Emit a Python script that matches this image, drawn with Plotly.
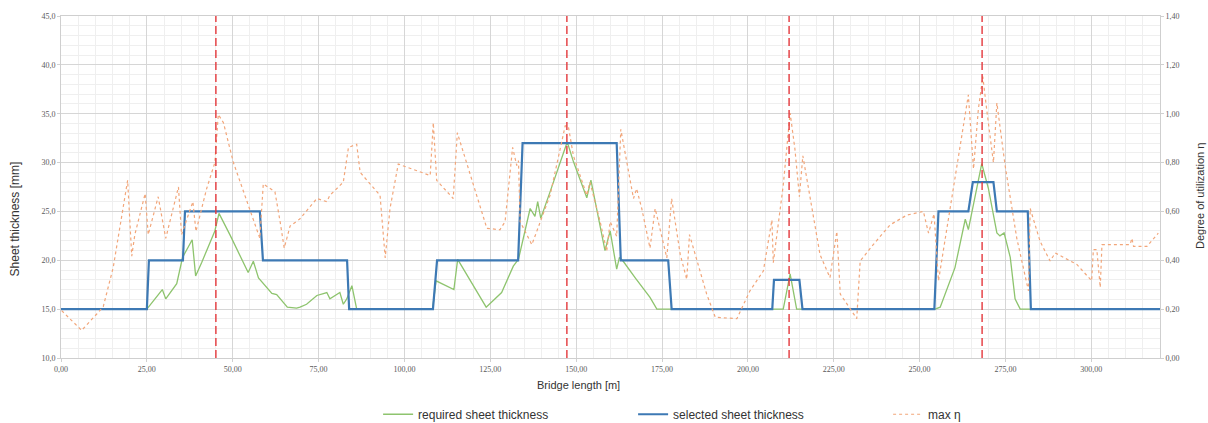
import plotly.graph_objects as go

# ---------------- data ----------------
# required sheet thickness [mm]
req_x = [0, 25.0, 29.5, 30.5, 33.7, 35.4, 38.2, 39.2, 41.0, 44.8, 46.0, 49.2, 54.5, 56.0, 57.5,
         61.4, 62.8, 65.9, 68.6, 69.6, 71.5, 74.5, 76.4, 77.4, 78.3, 81.2, 82.2, 83.2, 84.7, 86.1,
         108.2, 109.2, 114.4, 115.5, 123.8, 126.9, 128.3, 131.7, 133.2, 136.6, 138.0, 138.8, 139.7,
         142.4, 147.4, 149.2, 153.1, 154.3, 156.2, 158.4, 159.9, 161.8, 162.6, 163.7, 167.2, 169.6,
         171.5, 173.5, 210.3, 212.3, 214.2, 254.5, 256.0, 260.3, 263.3, 264.2, 268.1, 270.0, 272.5,
         273.4, 274.6, 276.4, 277.8, 279.3, 320]
req_t = [15, 15.0, 17.0, 16.05, 17.6, 20.3, 22.1, 18.4, 19.8, 23.0, 24.8, 22.6, 18.75, 19.9, 18.2,
         16.6, 16.5, 15.2, 15.1, 15.2, 15.5, 16.4, 16.6, 16.7, 16.05, 16.7, 15.5, 16.05, 17.4, 15.0,
         15.0, 17.9, 17.0, 20.1, 15.2, 16.2, 16.7, 19.4, 20.1, 25.3, 24.5, 26.0, 24.3,
         27.0, 32.1, 30.1, 26.4, 28.2, 25.0, 21.0, 23.0, 19.1, 20.3, 19.9, 18.2, 17.1,
         16.2, 15.0, 15.0, 18.6, 15.0, 15.0, 15.2, 19.25, 24.2, 23.15, 29.9, 27.4, 22.8,
         22.5, 22.8, 20.3, 16.05, 15.0, 15]

# selected sheet thickness [mm]
sel_x = [0, 25.0, 25.6, 35.5, 36.1, 57.9, 58.8, 83.3, 83.9, 108.3, 109.5, 133.1, 134.4,
         161.8, 163.0, 176.8, 177.8, 207.1, 207.6, 215.0, 215.9, 254.3, 255.5, 264.2, 265.5,
         271.5, 272.5, 281.5, 282.4, 320]
sel_t = [15, 15, 20, 20, 25, 25, 20, 20, 15, 15, 20, 20, 32,
         32, 20, 20, 15, 15, 18, 18, 15, 15, 25, 25, 28,
         28, 25, 25, 15, 15]

# max degree of utilization
eta_x = [0.2, 6.0, 10.4, 12.3, 15.2, 19.4, 20.6, 21.5, 24.5, 25.4, 28.3, 30.5, 34.2, 35.1, 38.4,
         39.3, 42.4, 44.8, 45.8, 47.3, 50.2, 54.1, 57.9, 58.9, 62.3, 63.8, 65.0, 66.7, 69.6, 74.5,
         77.4, 78.3, 82.2, 83.7, 86.1, 87.1, 92.9, 94.4, 95.8, 98.2, 107.5, 108.4, 109.4, 114.2,
         115.4, 124.0, 127.8, 129.3, 131.5, 132.7, 133.2, 133.7, 137.1, 142.4, 146.8, 147.7, 149.2,
         153.1, 154.0, 157.0, 158.9, 159.9, 161.8, 163.0, 166.7, 167.6, 169.1, 171.5, 173.0, 176.4,
         177.8, 180.3, 182.2, 183.0, 188.0, 190.5, 196.8, 200.6, 204.5, 207.0, 207.4, 210.3, 212.3,
         213.7, 215.0, 216.0, 221.0, 223.9, 225.9, 226.9, 231.7, 232.7, 236.5, 241.4, 246.3, 251.1,
         252.6, 254.2, 255.5, 264.2, 265.7, 267.1, 268.4, 269.6, 271.5, 272.5, 274.9, 278.3, 281.7,
         282.2, 285.1, 288.0, 289.5, 295.8, 300.1, 300.6, 301.6, 302.6, 303.1, 306.4, 311.3, 311.8,
         312.3, 316.2, 319.5]
eta_v = [0.194, 0.113, 0.18, 0.21, 0.37, 0.727, 0.417, 0.505, 0.673, 0.505, 0.66, 0.49, 0.70, 0.505, 0.64,
         0.518, 0.693, 0.80, 0.997, 0.963, 0.80, 0.64, 0.49, 0.713, 0.68, 0.558, 0.45, 0.54, 0.57, 0.653,
         0.64, 0.666, 0.72, 0.862, 0.875, 0.76, 0.666, 0.41, 0.612, 0.794, 0.747, 0.963, 0.727, 0.653,
         0.922, 0.531, 0.525, 0.558, 0.862, 0.788, 0.808, 0.558, 0.464, 0.666, 0.95, 0.95, 0.828,
         0.666, 0.72, 0.558, 0.437, 0.558, 0.498, 0.936, 0.653, 0.693, 0.612, 0.45, 0.612, 0.41,
         0.653, 0.424, 0.322, 0.505, 0.262, 0.167, 0.161, 0.275, 0.356, 0.565, 0.39, 0.707, 1.003,
         0.855, 0.66, 0.828, 0.424, 0.329, 0.518, 0.262, 0.161, 0.397, 0.464, 0.545, 0.585, 0.60,
         0.511, 0.59, 0.316, 1.077, 0.774, 1.017, 1.152, 1.01, 0.80, 1.044, 0.788, 0.49, 0.275,
         0.612, 0.477, 0.397, 0.43, 0.383, 0.316, 0.444, 0.444, 0.289, 0.464, 0.464, 0.464, 0.49,
         0.457, 0.457, 0.511]

# positions of the red dashed markers [m]
marker_x = [45.1, 147.3, 212.0, 268.2]

x_range = [0, 320]
y_range = [10, 45]
y2_range = [0, 1.4]

# ---------------- figure ----------------
fig = go.Figure()

fig.add_trace(go.Scatter(x=req_x, y=req_t, mode="lines", name="required sheet thickness",
                         line=dict(color="#8ec46e", width=1.3)))
fig.add_trace(go.Scatter(x=sel_x, y=sel_t, mode="lines", name="selected sheet thickness",
                         line=dict(color="#3d79b4", width=2.2)))
fig.add_trace(go.Scatter(x=eta_x, y=eta_v, mode="lines", name="max η", yaxis="y2",
                         line=dict(color="#f2a67a", width=1.2, dash="dot")))

for mx in marker_x:
    fig.add_shape(type="line", xref="x", yref="paper", x0=mx, x1=mx, y0=0, y1=1,
                  line=dict(color="#e4383c", width=1.4, dash="8px,4px"))

tickfont = dict(family="Liberation Serif", size=8, color="#5a5a5a")

fig.update_layout(
    width=1208, height=423,
    margin=dict(l=61, r=48, t=12, b=65),
    paper_bgcolor="white", plot_bgcolor="white",
    separators=", ",
    showlegend=True,
    legend=dict(orientation="h", xref="container", yref="container",
                x=0.313, y=0.055, xanchor="left", yanchor="top",
                font=dict(family="Liberation Sans", size=12, color="#333333"),
                entrywidth=210, entrywidthmode="pixels", bgcolor="rgba(0,0,0,0)"),
    xaxis=dict(range=x_range, dtick=25, tick0=0, tickformat=".2f", tickfont=tickfont,
               showgrid=True, gridcolor="#d6d6d6", gridwidth=1,
               minor=dict(dtick=5, showgrid=True, gridcolor="#efefef"),
               showline=True, linecolor="#cfcfcf", mirror=True, zeroline=False,
               ticks="outside", ticklen=3, tickcolor="#d0d0d0"),
    yaxis=dict(range=y_range, dtick=5, tick0=10, tickformat=".1f", tickfont=tickfont,
               showgrid=True, gridcolor="#d6d6d6", gridwidth=1,
               minor=dict(dtick=1, showgrid=True, gridcolor="#efefef"),
               showline=True, linecolor="#cfcfcf", mirror=True, zeroline=False,
               ticks="outside", ticklen=3, tickcolor="#d0d0d0"),
    yaxis2=dict(range=y2_range, dtick=0.2, tick0=0, tickformat=".2f", tickfont=tickfont,
                overlaying="y", side="right", showgrid=False, zeroline=False,
                ticks="outside", ticklen=3, tickcolor="#d0d0d0"),
    annotations=[
        dict(text="Bridge length [m]", xref="paper", yref="paper", x=0.471, y=-0.078,
             xanchor="center", yanchor="middle", showarrow=False,
             font=dict(family="Liberation Sans", size=11, color="#333333")),
        dict(text="Sheet thickness [mm]", xref="paper", yref="paper", x=-0.041, y=0.408,
             xanchor="center", yanchor="middle", textangle=-90, showarrow=False,
             font=dict(family="Liberation Sans", size=12, color="#333333")),
        dict(text="Degree of utilization η", xref="paper", yref="paper", x=1.0365, y=0.474,
             xanchor="center", yanchor="middle", textangle=-90, showarrow=False,
             font=dict(family="Liberation Sans", size=11, color="#333333")),
    ],
)

fig.write_html("out.html")
